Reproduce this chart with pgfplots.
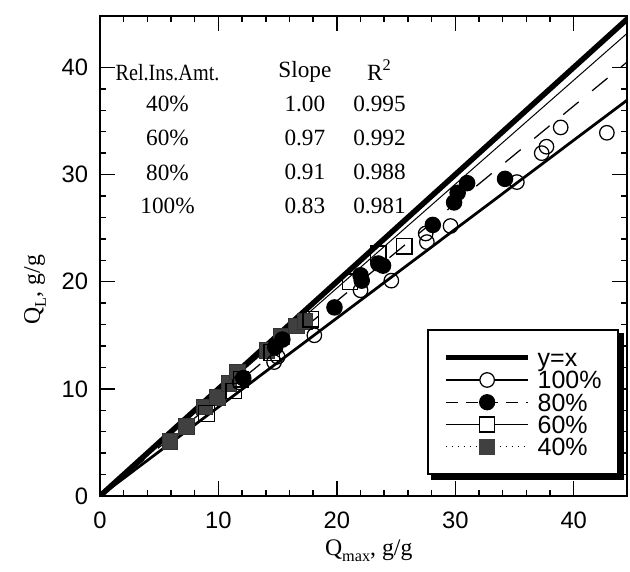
\documentclass[border=0pt]{standalone}
\usepackage{fontspec}
\setmainfont{Liberation Serif}
\newfontfamily\sans{Liberation Sans}
\usepackage{pgfplots}
\pgfplotsset{compat=1.18}

\begin{document}
\begin{tikzpicture}
\begin{axis}[
  name=ax,
  scale only axis, width=210.8pt, height=192pt,
  xmin=0, xmax=44.5, ymin=0, ymax=44.8,
  xtick={0,10,20,30,40}, ytick={0,10,20,30,40},
  minor tick num=4,
  tick align=inside,
  major tick length=6pt, minor tick length=2.6pt,
  every tick/.style={black, line width=0.6pt},
  axis line style={line width=0.8pt},
  tick label style={font=\sans\fontsize{9.5}{11}\selectfont},
  /pgf/number format/assume math mode=true,
  xticklabel shift=3pt, yticklabel shift=1.2pt,
  xlabel={Q\raisebox{-0.55ex}{\fontsize{6.5}{7}\selectfont max}, g/g},
  ylabel={Q\raisebox{-0.55ex}{\fontsize{6.5}{7}\selectfont L}, g/g},
  label style={font=\fontsize{9.5}{11}\selectfont},
  xlabel style={at={(axis description cs:0.51,-0.123)}, anchor=base},
  ylabel style={at={(axis description cs:-0.114,0.43)}, anchor=base},
  legend style={name=leg, at={(0.985,0.043)}, anchor=south east, draw=black,
    line width=0.8pt, fill=white,
    font=\sans\fontsize{10}{11}\selectfont,
    inner xsep=6pt, inner ysep=6.6pt, row sep=0pt, column sep=2pt,
    nodes={inner sep=0.6pt, text height=7.4pt, text depth=0.3pt},
    legend cell align=left},
]
% fitted lines
\addplot[line width=2.2pt, black,
  legend image code/.code={\draw[line width=2.2pt] (0pt,0pt)--(33pt,0pt);}]
  coordinates {(0,0) (44.8,44.8)};
\addlegendentry{y=x}
\addplot[line width=1.1pt, black,
  legend image code/.code={\draw[line width=0.9pt] (0pt,0pt)--(33pt,0pt);
    \draw[only marks, mark=*, mark size=2.9pt, mark options={fill=white, line width=0.5pt}] plot coordinates {(16.5pt,0pt)};}]
  coordinates {(0,0) (44.5,36.94)};
\addlegendentry{100\%}
\addplot[line width=0.5pt, black, dash pattern=on 8pt off 7pt,
  legend image code/.code={\draw[line width=0.4pt, dash pattern=on 5pt off 3pt] (0pt,0pt)--(33pt,0pt);
    \draw[only marks, mark=*, mark size=3pt, mark options={fill=black, solid}] plot coordinates {(16.5pt,0pt)};}]
  coordinates {(0,0) (44.5,40.5)};
\addlegendentry{80\%}
\addplot[line width=0.4pt, black,
  legend image code/.code={\draw[line width=0.5pt] (0pt,0pt)--(33pt,0pt);
    \draw[only marks, mark=square*, mark size=3pt, mark options={fill=white, line width=0.5pt}] plot coordinates {(16.5pt,0pt)};}]
  coordinates {(0,0) (44.5,43.17)};
\addlegendentry{60\%}
\addplot[line width=0.4pt, black, dotted,
  legend image code/.code={\draw[line width=0.4pt, dotted] (0pt,0pt)--(33pt,0pt);
    \draw[only marks, mark=square*, mark size=3pt, mark options={fill=black!75, draw=black!75, solid}] plot coordinates {(16.5pt,0pt)};}]
  coordinates {(0,0) (44.5,44.5)};
\addlegendentry{40\%}

% data: 40% (filled squares)
\addplot[only marks, forget plot, mark=square*, mark size=3.1pt,
  mark options={fill=black!75, draw=black!80, line width=0.3pt}]
  coordinates {(5.9,5.1) (7.3,6.5) (8.8,8.3) (9.9,9.2) (10.9,10.5) (11.6,11.6)
    (14.1,13.6) (15.3,14.9) (16.6,15.9) (17.3,16.3)};
% 60% (open squares)
\addplot[only marks, forget plot, mark=square, mark size=3.1pt,
  mark options={line width=0.5pt}]
  coordinates {(9.0,7.7) (11.3,9.8) (11.9,10.9) (14.5,13.4) (17.8,16.5)
    (21.1,20.0) (23.5,22.6) (25.7,23.3)};
% 100% (open circles)
\addplot[only marks, forget plot, mark=o, mark size=2.9pt,
  mark options={line width=0.5pt}]
  coordinates {(11.8,10.6) (14.7,12.5) (15.0,13.0) (18.1,15.0) (22.0,19.2) (24.6,20.1)
    (27.6,23.7) (27.5,24.5) (29.6,25.2) (35.2,29.3) (37.3,32.0) (37.7,32.6)
    (38.9,34.4) (42.8,33.9)};
% 80% (filled circles)
\addplot[only marks, forget plot, mark=*, mark size=3.1pt, mark options={fill=black}]
  coordinates {(12.1,11.0) (14.8,13.9) (15.4,14.6) (19.8,17.6) (22.0,20.6) (22.1,20.1)
    (23.5,21.7) (23.9,21.5) (28.1,25.3) (29.9,27.4) (30.2,28.3) (31.0,29.2)
    (34.2,29.6)};

% inset table
\begin{scope}[every node/.style={font=\fontsize{9.3}{10}\selectfont, anchor=center}]
\node at (axis cs:5.7,39.55) {\scalebox{0.87}[1]{Rel.Ins.Amt.}};
\node at (axis cs:17.3,39.55) {Slope};
\node at (axis cs:23.6,39.75) {R\textsuperscript{2}};
\node at (axis cs:5.7,36.57) {40\%};
\node at (axis cs:17.3,36.57) {1.00};
\node at (axis cs:23.6,36.57) {0.995};
\node at (axis cs:5.7,33.4) {60\%};
\node at (axis cs:17.3,33.4) {0.97};
\node at (axis cs:23.6,33.4) {0.992};
\node at (axis cs:5.7,30.2) {80\%};
\node at (axis cs:17.3,30.2) {0.91};
\node at (axis cs:23.6,30.2) {0.988};
\node at (axis cs:5.7,27.05) {100\%};
\node at (axis cs:17.3,27.05) {0.83};
\node at (axis cs:23.6,27.05) {0.981};
\end{scope}
\end{axis}
% legend shadow (bottom and right edges)
\fill[black] ([xshift=1.6pt,yshift=-1.8pt]leg.south west) rectangle ([xshift=1.8pt,yshift=0pt]leg.south east);
\fill[black] ([xshift=0pt,yshift=-1.8pt]leg.south east) rectangle ([xshift=1.8pt,yshift=-1.6pt]leg.north east);
\pgfresetboundingbox
\path[use as bounding box] (-40pt,-30pt) rectangle (212pt,198.4pt);
\end{tikzpicture}
\end{document}
